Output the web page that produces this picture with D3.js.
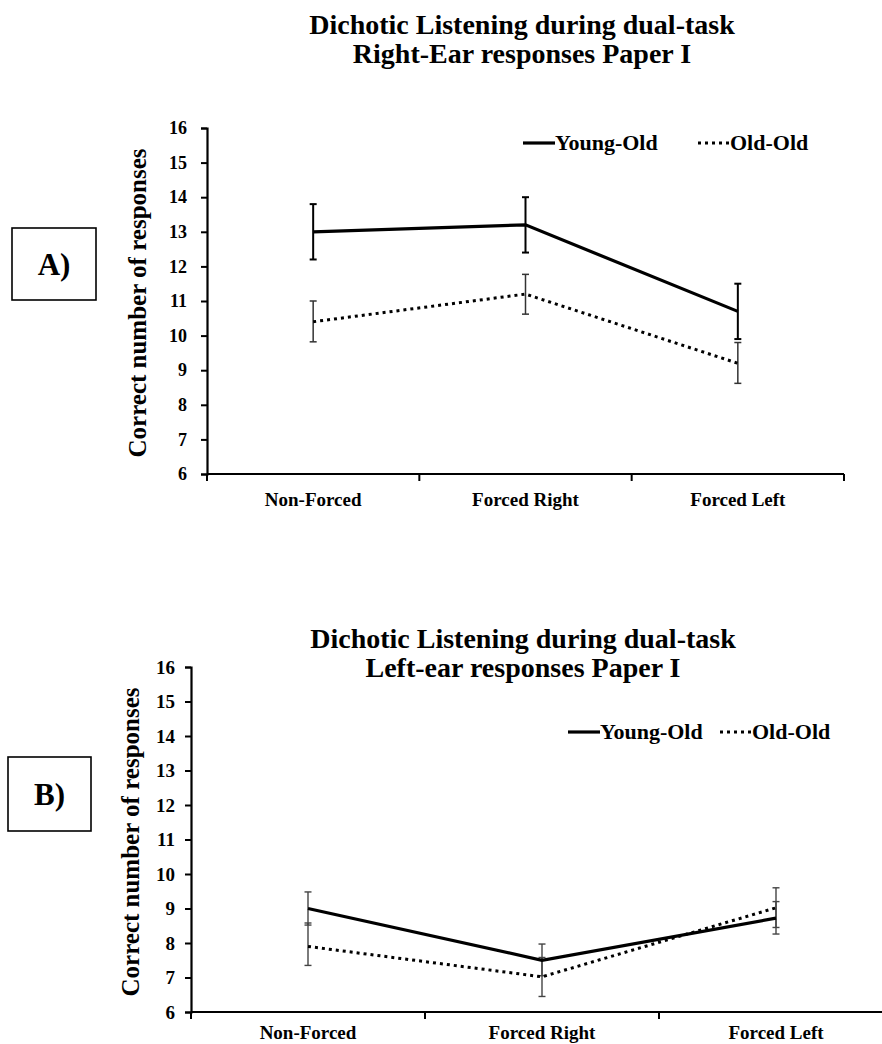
<!DOCTYPE html>
<html>
<head>
<meta charset="utf-8">
<script src="https://cdn.jsdelivr.net/npm/d3@7"></script>
<style>
  html, body { margin: 0; padding: 0; background: #fff; }
  svg { display: block; }
  text { font-family: "Liberation Serif", "Times New Roman", serif; font-weight: bold; fill: #000; }
</style>
</head>
<body>
<svg id="chart" width="882" height="1044"></svg>
<script>
// ---------- data ----------
const categories = ["Non-Forced", "Forced Right", "Forced Left"];
const seriesNames = ["Young-Old", "Old-Old"];
const yTicks = [6, 7, 8, 9, 10, 11, 12, 13, 14, 15, 16];

// Panel A: Right-ear responses
const rightYoungOld = [13.0, 13.2, 10.7];
const rightYoungOldLo = [12.2, 12.4, 9.9];
const rightYoungOldHi = [13.8, 14.0, 11.5];
const rightOldOld = [10.4, 11.2, 9.2];
const rightOldOldLo = [9.82, 10.62, 8.62];
const rightOldOldHi = [11.0, 11.77, 9.8];

// Panel B: Left-ear responses
const leftYoungOld = [9.0, 7.5, 8.72];
const leftYoungOldLo = [8.52, 7.05, 8.26];
const leftYoungOldHi = [9.48, 7.97, 9.2];
const leftOldOld = [7.9, 7.02, 9.02];
const leftOldOldLo = [7.35, 6.45, 8.45];
const leftOldOldHi = [8.58, 7.58, 9.6];

const titleLine1 = "Dichotic Listening during dual-task";
const titleA2 = "Right-Ear responses Paper I";
const titleB2 = "Left-ear responses Paper I";
const yLabel = "Correct number of responses";

// ---------- drawing ----------
const svg = d3.select("#chart");

function panel(cfg) {
  const g = svg.append("g");
  const x = d3.scaleBand().domain(categories).range([cfg.x0, cfg.x1]);
  const y = d3.scaleLinear().domain([6, 16]).range([cfg.yBottom, cfg.yTop]);

  // titles
  g.append("text").attr("x", cfg.titleX).attr("y", cfg.titleY1)
    .attr("text-anchor", "middle").style("font-size", cfg.titleSize + "px").text(titleLine1);
  g.append("text").attr("x", cfg.titleX).attr("y", cfg.titleY2)
    .attr("text-anchor", "middle").style("font-size", cfg.titleSize + "px").text(cfg.title2);

  // y axis
  const ya = g.append("g").attr("transform", `translate(${cfg.x0},0)`)
    .call(d3.axisLeft(y).tickValues(yTicks).tickSize(6).tickPadding(cfg.yPad).tickFormat(d3.format("d")));
  ya.select(".domain").attr("stroke", "#000").attr("stroke-width", 2.2);
  ya.selectAll(".tick line").attr("stroke", "#000").attr("stroke-width", 2);
  ya.selectAll(".tick text").style("font-size", cfg.tickSize + "px")
    .style("font-family", '"Liberation Serif", serif').style("font-weight", "bold");

  // x axis
  const xa = g.append("g").attr("transform", `translate(0,${cfg.yBottom})`)
    .call(d3.axisBottom(x).tickSize(0).tickPadding(cfg.xPad));
  xa.select(".domain").attr("stroke", "#000").attr("stroke-width", 2.2).attr("d", `M${cfg.x0},0H${cfg.x1}`);
  xa.selectAll(".tick text").style("font-size", cfg.xTickSize + "px")
    .style("font-family", '"Liberation Serif", serif').style("font-weight", "bold");
  // boundary ticks
  const bounds = [cfg.x0].concat(categories.map(c => x(c) + x.bandwidth()));
  xa.selectAll("line.bound").data(bounds).enter().append("line")
    .attr("class", "bound").attr("x1", d => d).attr("x2", d => d)
    .attr("y1", 0).attr("y2", 7).attr("stroke", "#000").attr("stroke-width", 2);

  // y label
  g.append("text")
    .attr("transform", `translate(${cfg.ylabX},${cfg.ylabY}) rotate(-90)`)
    .attr("text-anchor", "middle").style("font-size", cfg.ylabSize + "px").text(yLabel);

  const cx = c => x(c) + x.bandwidth() / 2;
  const line = d3.line().x((d, i) => cx(categories[i])).y(d => y(d));

  // error bars
  function errBars(lo, hi, color, w) {
    categories.forEach((c, i) => {
      const xx = cx(c);
      g.append("line").attr("x1", xx).attr("x2", xx).attr("y1", y(lo[i])).attr("y2", y(hi[i]))
        .attr("stroke", color).attr("stroke-width", w);
      [lo[i], hi[i]].forEach(v => {
        g.append("line").attr("x1", xx - 3.5).attr("x2", xx + 3.5).attr("y1", y(v)).attr("y2", y(v))
          .attr("stroke", color).attr("stroke-width", w);
      });
    });
  }
  errBars(cfg.oldLo, cfg.oldHi, cfg.oldErrColor, cfg.oldErrW);
  errBars(cfg.youngLo, cfg.youngHi, cfg.youngErrColor, cfg.youngErrW);

  // lines
  g.append("path").datum(cfg.old).attr("d", line).attr("fill", "none")
    .attr("stroke", "#000").attr("stroke-width", 3).attr("stroke-dasharray", "3,4");
  g.append("path").datum(cfg.young).attr("d", line).attr("fill", "none")
    .attr("stroke", "#000").attr("stroke-width", 3.2).attr("stroke-linejoin", "miter");

  // legend
  const lg = g.append("g");
  lg.append("line").attr("x1", cfg.legX1).attr("x2", cfg.legX1 + 32).attr("y1", cfg.legY).attr("y2", cfg.legY)
    .attr("stroke", "#000").attr("stroke-width", 3.2);
  lg.append("text").attr("x", cfg.legX1 + 32).attr("y", cfg.legY + 7)
    .style("font-size", cfg.legSize + "px").text(seriesNames[0]);
  lg.append("line").attr("x1", cfg.legX2).attr("x2", cfg.legX2 + 32).attr("y1", cfg.legY).attr("y2", cfg.legY)
    .attr("stroke", "#000").attr("stroke-width", 3).attr("stroke-dasharray", "3,4");
  lg.append("text").attr("x", cfg.legX2 + 32).attr("y", cfg.legY + 7)
    .style("font-size", cfg.legSize + "px").text(seriesNames[1]);

  // panel label box
  g.append("rect").attr("x", cfg.boxX).attr("y", cfg.boxY).attr("width", cfg.boxW).attr("height", cfg.boxH)
    .attr("fill", "none").attr("stroke", "#000").attr("stroke-width", 1.6);
  g.append("text").attr("x", cfg.boxX + cfg.boxW / 2).attr("y", cfg.boxY + cfg.boxH / 2 + 10.5)
    .attr("text-anchor", "middle").style("font-size", "31px").text(cfg.label);
}

panel({
  x0: 207, x1: 844, yTop: 128, yBottom: 474,
  titleX: 522, titleY1: 34, titleY2: 63, titleSize: 28, title2: titleA2,
  tickSize: 18, yPad: 14, xTickSize: 19, xPad: 19,
  ylabX: 146, ylabY: 303, ylabSize: 25,
  young: rightYoungOld, youngLo: rightYoungOldLo, youngHi: rightYoungOldHi,
  old: rightOldOld, oldLo: rightOldOldLo, oldHi: rightOldOldHi,
  youngErrColor: "#000", youngErrW: 2, oldErrColor: "#333", oldErrW: 1.5,
  legX1: 523, legX2: 698, legY: 143, legSize: 22,
  boxX: 12, boxY: 228, boxW: 84, boxH: 72, label: "A)"
});

panel({
  x0: 191, x1: 893, yTop: 667, yBottom: 1012,
  titleX: 523, titleY1: 648, titleY2: 677, titleSize: 28, title2: titleB2,
  tickSize: 19, yPad: 10, xTickSize: 19, xPad: 14,
  ylabX: 139, ylabY: 842, ylabSize: 25,
  young: leftYoungOld, youngLo: leftYoungOldLo, youngHi: leftYoungOldHi,
  old: leftOldOld, oldLo: leftOldOldLo, oldHi: leftOldOldHi,
  youngErrColor: "#444", youngErrW: 1.4, oldErrColor: "#444", oldErrW: 1.4,
  legX1: 568, legX2: 720, legY: 732, legSize: 22,
  boxX: 8, boxY: 757, boxW: 83, boxH: 74, label: "B)"
});
</script>
</body>
</html>
